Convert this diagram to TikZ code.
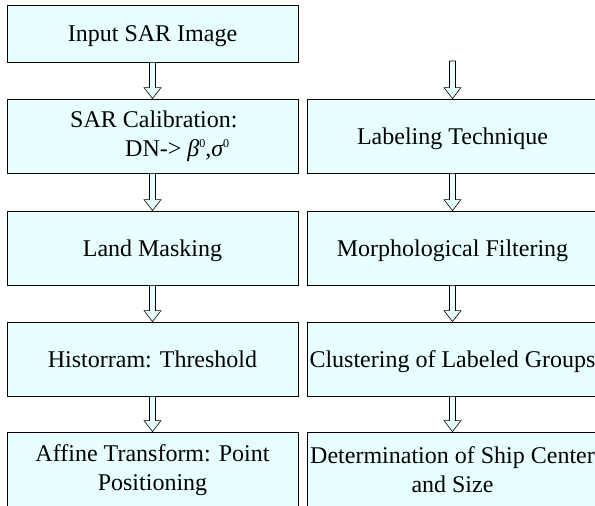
\documentclass[tikz,border=0pt]{standalone}
\usepackage{fontspec}
\setmainfont{Liberation Serif}
\usetikzlibrary{calc}
\definecolor{boxfill}{RGB}{232,255,255}
\tikzset{
 box/.style={draw=black, line width=0.8pt, fill=boxfill, minimum width=291pt, minimum height=74pt, inner sep=0pt, align=center, font=\fontsize{24}{29}\selectfont},
 oneline/.style={text height=16.5pt, text depth=0pt},
 txt/.style={inner sep=0pt, font=\fontsize{24}{29}\selectfont, anchor=base west},
 blockarr/.style={draw=black, line width=0.6pt, fill=boxfill},
}
\newcommand\hollowarrow[2]{%
  \draw[blockarr] ($(#1)+(-3pt,0)$) -- ($(#2)+(-3pt,11pt)$) -- ($(#2)+(-8.5pt,11pt)$) -- (#2) -- ($(#2)+(8.5pt,11pt)$) -- ($(#2)+(3pt,11pt)$) -- ($(#1)+(3pt,0)$) -- cycle;}
\newcommand\supzero{\raisebox{9pt}{\fontsize{12}{12}\selectfont 0}}
\begin{document}
\begin{tikzpicture}[x=1pt,y=1pt]
\useasboundingbox (0,0) rectangle (595,506);
\clip (0,0) rectangle (595,506);
% left column
\node[box,oneline,minimum height=57pt] (in) at (152.5,472.5) {Input SAR Image};
\node[box] (cal) at (152.5,370) {};
\node[txt] (cal1) at (70,378) {SAR Calibration:};
\node[txt] (cal2) at (125,349) {DN-> {\itshape β}\supzero,{\itshape σ}\supzero};
\node[box,oneline] (land) at (152.5,258) {Land Masking};
\node[box,oneline] (hist) at (152.5,147) {Historram: Threshold};
\node[box,minimum height=76pt] (aff) at (152.5,36) {Affine Transform: Point\\Positioning};
% right column
\coordinate (rtop) at (452.5,445);
\node[box,oneline] (lab) at (452.5,370) {Labeling Technique};
\node[box,oneline] (morph) at (452.5,258) {Morphological Filtering};
\node[box,oneline] (clus) at (452.5,147) {Clustering of Labeled Groups};
\node[box,minimum height=76pt] (det) at (452.5,36) {Determination of Ship Center\\and Size};
% arrows
\hollowarrow{in.south}{cal.north}
\hollowarrow{cal.south}{land.north}
\hollowarrow{land.south}{hist.north}
\hollowarrow{hist.south}{aff.north}
\hollowarrow{rtop}{lab.north}
\hollowarrow{lab.south}{morph.north}
\hollowarrow{morph.south}{clus.north}
\hollowarrow{clus.south}{det.north}
\end{tikzpicture}
\end{document}
